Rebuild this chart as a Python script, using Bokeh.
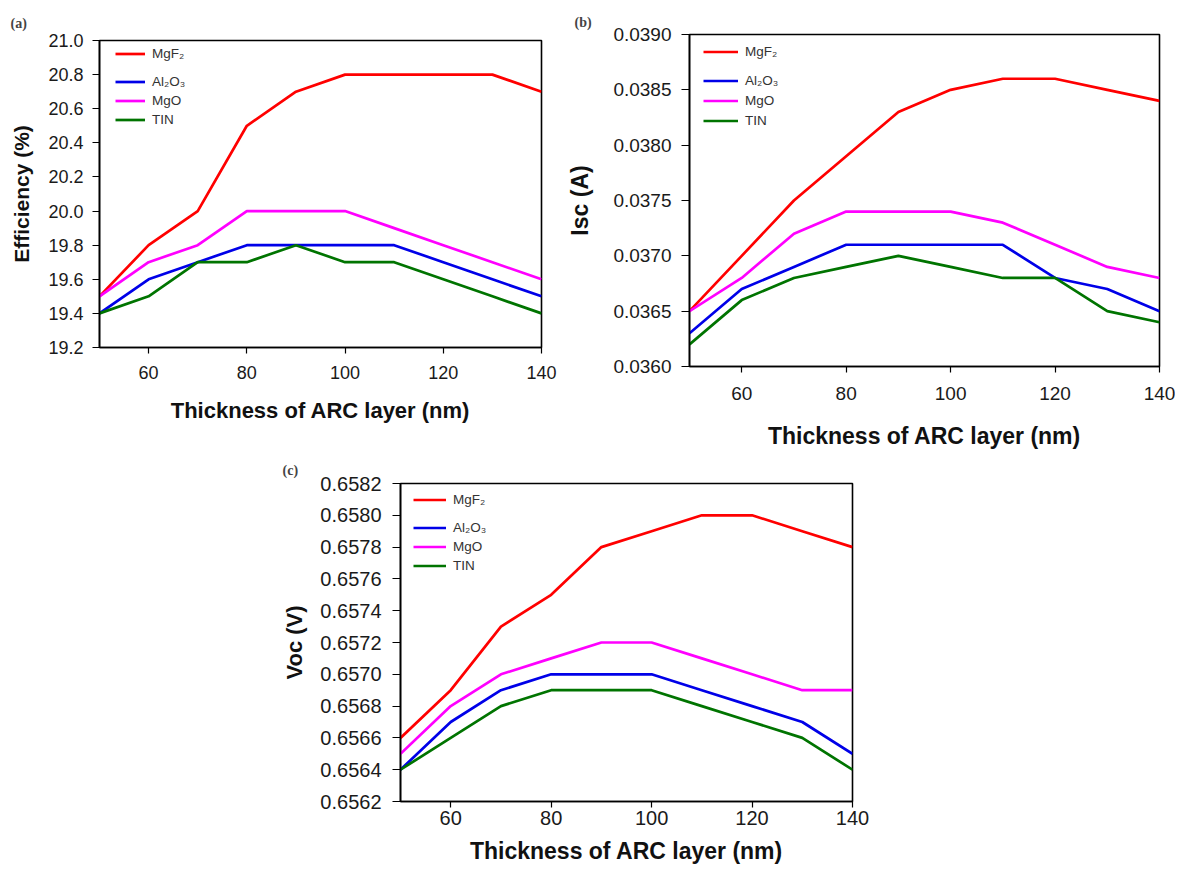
from bokeh.plotting import figure
from bokeh.models import (FixedTicker, PrintfTickFormatter, Legend, LegendItem,
                          Range1d, Spacer)
from bokeh.layouts import row, column
from bokeh.embed import file_html
from bokeh.resources import INLINE

# ---------------- data ----------------
thickness = [50, 60, 70, 80, 90, 100, 110, 120, 130, 140]
x_ticks = [60, 80, 100, 120, 140]

materials = ["MgF₂", "Al₂O₃", "MgO", "TIN"]
colors = ["#FF0000", "#0000E8", "#FF00FF", "#007400"]

eff_mgf2 = [19.5, 19.8, 20.0, 20.5, 20.7, 20.8, 20.8, 20.8, 20.8, 20.7]
eff_al2o3 = [19.4, 19.6, 19.7, 19.8, 19.8, 19.8, 19.8, 19.7, 19.6, 19.5]
eff_mgo = [19.5, 19.7, 19.8, 20.0, 20.0, 20.0, 19.9, 19.8, 19.7, 19.6]
eff_tin = [19.4, 19.5, 19.7, 19.7, 19.8, 19.7, 19.7, 19.6, 19.5, 19.4]
eff_ticks = [19.2, 19.4, 19.6, 19.8, 20.0, 20.2, 20.4, 20.6, 20.8, 21.0]

isc_mgf2 = [0.0365, 0.0370, 0.0375, 0.0379, 0.0383, 0.0385, 0.0386, 0.0386, 0.0385, 0.0384]
isc_al2o3 = [0.0363, 0.0367, 0.0369, 0.0371, 0.0371, 0.0371, 0.0371, 0.0368, 0.0367, 0.0365]
isc_mgo = [0.0365, 0.0368, 0.0372, 0.0374, 0.0374, 0.0374, 0.0373, 0.0371, 0.0369, 0.0368]
isc_tin = [0.0362, 0.0366, 0.0368, 0.0369, 0.0370, 0.0369, 0.0368, 0.0368, 0.0365, 0.0364]
isc_ticks = [0.0360, 0.0365, 0.0370, 0.0375, 0.0380, 0.0385, 0.0390]

voc_mgf2 = [0.6566, 0.6569, 0.6573, 0.6575, 0.6578, 0.6579, 0.6580, 0.6580, 0.6579, 0.6578]
voc_al2o3 = [0.6564, 0.6567, 0.6569, 0.6570, 0.6570, 0.6570, 0.6569, 0.6568, 0.6567, 0.6565]
voc_mgo = [0.6565, 0.6568, 0.6570, 0.6571, 0.6572, 0.6572, 0.6571, 0.6570, 0.6569, 0.6569]
voc_tin = [0.6564, 0.6566, 0.6568, 0.6569, 0.6569, 0.6569, 0.6568, 0.6567, 0.6566, 0.6564]
voc_ticks = [0.6562, 0.6564, 0.6566, 0.6568, 0.6570, 0.6572, 0.6574, 0.6576, 0.6578, 0.6580, 0.6582]

x_title = "Thickness of ARC layer (nm)"
SANS = "Liberation Sans"
SERIF = "Liberation Serif"


def make_panel(tag, ylabel, series, yticks, fmt, g):
    p = figure(frame_width=g["fw"], frame_height=g["fh"],
               min_border_left=g["left"], min_border_top=g["top"],
               min_border_right=g["right"], min_border_bottom=g["bottom"],
               x_range=Range1d(thickness[0], thickness[-1]),
               y_range=Range1d(yticks[0], yticks[-1]),
               output_backend="svg", toolbar_location=None,
               background_fill_color="white", border_fill_color="white")
    p.grid.visible = False
    p.outline_line_color = "black"
    p.outline_line_width = 1.6
    p.outline_line_alpha = 1.0

    # title used as panel tag
    p.title.text = tag
    p.title.text_font = SERIF
    p.title.text_font_style = "bold"
    p.title.text_font_size = "14px"
    p.title.align = "left"
    p.title.offset = g["tag_offset"]
    p.title.standoff = g["tag_standoff"]

    for ax in (p.xaxis, p.yaxis):
        ax.axis_line_color = "black"
        ax.axis_line_width = 1.6
        ax.major_tick_line_color = "black"
        ax.major_tick_line_width = 1.2
        ax.major_tick_in = 0
        ax.minor_tick_line_color = None
        ax.major_label_text_font = SANS
        ax.major_label_text_font_size = g["tick_size"]
        ax.major_label_text_color = "#1a1a1a"
        ax.axis_label_text_font = SANS
        ax.axis_label_text_font_style = "bold"
        ax.axis_label_text_color = "#111111"

    p.xaxis.ticker = FixedTicker(ticks=x_ticks)
    p.xaxis.major_tick_out = 6
    p.xaxis.major_label_standoff = g["xl_so"]
    p.xaxis.axis_label = x_title
    p.xaxis.axis_label_text_font_size = g["xt_size"]
    p.xaxis.axis_label_standoff = g["xt_so"]

    p.yaxis.ticker = FixedTicker(ticks=yticks)
    p.yaxis.formatter = PrintfTickFormatter(format=fmt)
    p.yaxis.major_tick_out = g["ytick"]
    p.yaxis.major_label_standoff = g["yl_so"]
    p.yaxis.axis_label = ylabel
    p.yaxis.axis_label_text_font_size = g["yt_size"]
    p.yaxis.axis_label_standoff = g["yt_so"]

    renderers = []
    for ys, c in zip(series, colors):
        r = p.line(thickness, ys, line_color=c, line_width=2.7)
        renderers.append(r)

    h = 17
    sp = g["leg_sp"]
    c0, c1 = g["leg_c"]
    top0 = c0 - h / 2
    leg0 = Legend(items=[LegendItem(label=materials[0], renderers=[renderers[0]])],
                  location=(g["leg_x"], g["fh"] - (top0 + h)))
    top1 = c1 - h / 2
    leg1 = Legend(items=[LegendItem(label=m, renderers=[r])
                         for m, r in zip(materials[1:], renderers[1:])],
                  location=(g["leg_x"], g["fh"] - (top1 + 3 * h + 2 * sp)))
    for lg in (leg0, leg1):
        lg.padding = 0
        lg.margin = 0
        lg.spacing = sp
        lg.border_line_color = None
        lg.background_fill_alpha = 0
        lg.label_text_font = SANS
        lg.label_text_font_size = "13.5px"
        lg.label_text_color = "#333333"
        lg.label_height = h
        lg.glyph_height = h
        lg.glyph_width = g["glyph_w"]
        lg.label_standoff = 7
        p.add_layout(lg)
    return p


ga = dict(fw=442, fh=307, left=99, top=40, right=21, bottom=101,
          tag_offset=-89, tag_standoff=20, tick_size="18px",
          xl_so=12, xt_so=16, xt_size="22px", ytick=7, yl_so=9,
          yt_so=12, yt_size="21px",
          leg_x=16, leg_c=(13, 41), leg_sp=2, glyph_w=30)
gb = dict(fw=470, fh=332, left=127, top=34, right=16, bottom=82,
          tag_offset=-115, tag_standoff=10, tick_size="19px",
          xl_so=14, xt_so=20, xt_size="23px", ytick=8, yl_so=10,
          yt_so=17, yt_size="23px",
          leg_x=14, leg_c=(17, 46), leg_sp=3, glyph_w=35)
gc = dict(fw=452, fh=318, left=130, top=32, right=25, bottom=66,
          tag_offset=-118, tag_standoff=12, tick_size="20px",
          xl_so=3, xt_so=10, xt_size="23px", ytick=8, yl_so=11,
          yt_so=10, yt_size="22px",
          leg_x=13, leg_c=(16, 44), leg_sp=2, glyph_w=33)

pa = make_panel("(a)", "Efficiency (%)", [eff_mgf2, eff_al2o3, eff_mgo, eff_tin],
                eff_ticks, "%.1f", ga)
pb = make_panel("(b)", "Isc (A)", [isc_mgf2, isc_al2o3, isc_mgo, isc_tin],
                isc_ticks, "%.4f", gb)
pc = make_panel("(c)", "Voc (V)", [voc_mgf2, voc_al2o3, voc_mgo, voc_tin],
                voc_ticks, "%.4f", gc)

layout = column(row(column(pa), column(pb)),
                row(Spacer(width=270, height=416), pc))

open("out.html", "w").write(file_html(layout, INLINE))
